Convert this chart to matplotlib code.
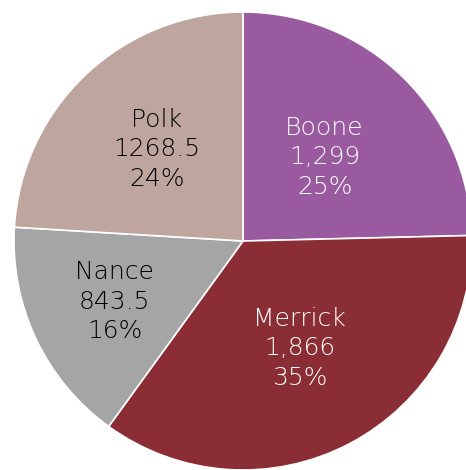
import numpy as np
import matplotlib
matplotlib.use("Agg")
from matplotlib import pyplot as plt

counties = ["Boone", "Merrick", "Nance", "Polk"]
values = [1299, 1866, 843.5, 1268.5]
value_labels = ["1,299", "1,866", "843.5", "1268.5"]
colors = ["#9A5AA0", "#8A2D34", "#A5A5A5", "#BEA59E"]
text_colors = ["white", "white", "black", "black"]
label_radius = [0.51, 0.53, 0.62, 0.55]

fig = plt.figure(figsize=(4.66, 4.70), dpi=100)
ax = fig.add_axes([0, 0, 1, 1])

wedges, _ = ax.pie(values, colors=colors, startangle=90, counterclock=False,
                   radius=1, center=(0, 0),
                   wedgeprops=dict(edgecolor="white", linewidth=1.2))

# pixel layout: centre at (243, 241), radius 229 px
cx, cy, r = 243, 241, 229
ax.set_xlim(-cx / r, (466 - cx) / r)
ax.set_ylim(-(470 - cy) / r, cy / r)
ax.set_aspect("auto")
ax.axis("off")

total = sum(values)
for w, name, vl, v, tc, rr in zip(wedges, counties, value_labels, values, text_colors, label_radius):
    mid = np.deg2rad((w.theta1 + w.theta2) / 2)
    pct = round(100 * v / total)
    ax.text(rr * np.cos(mid), rr * np.sin(mid), "%s\n%s\n%d%%" % (name, vl, pct),
            ha="center", va="center", multialignment="center", color=tc,
            fontsize=18, linespacing=1.28, family="DejaVu Sans", fontweight="light")

fig.savefig("out.png", dpi=100)
